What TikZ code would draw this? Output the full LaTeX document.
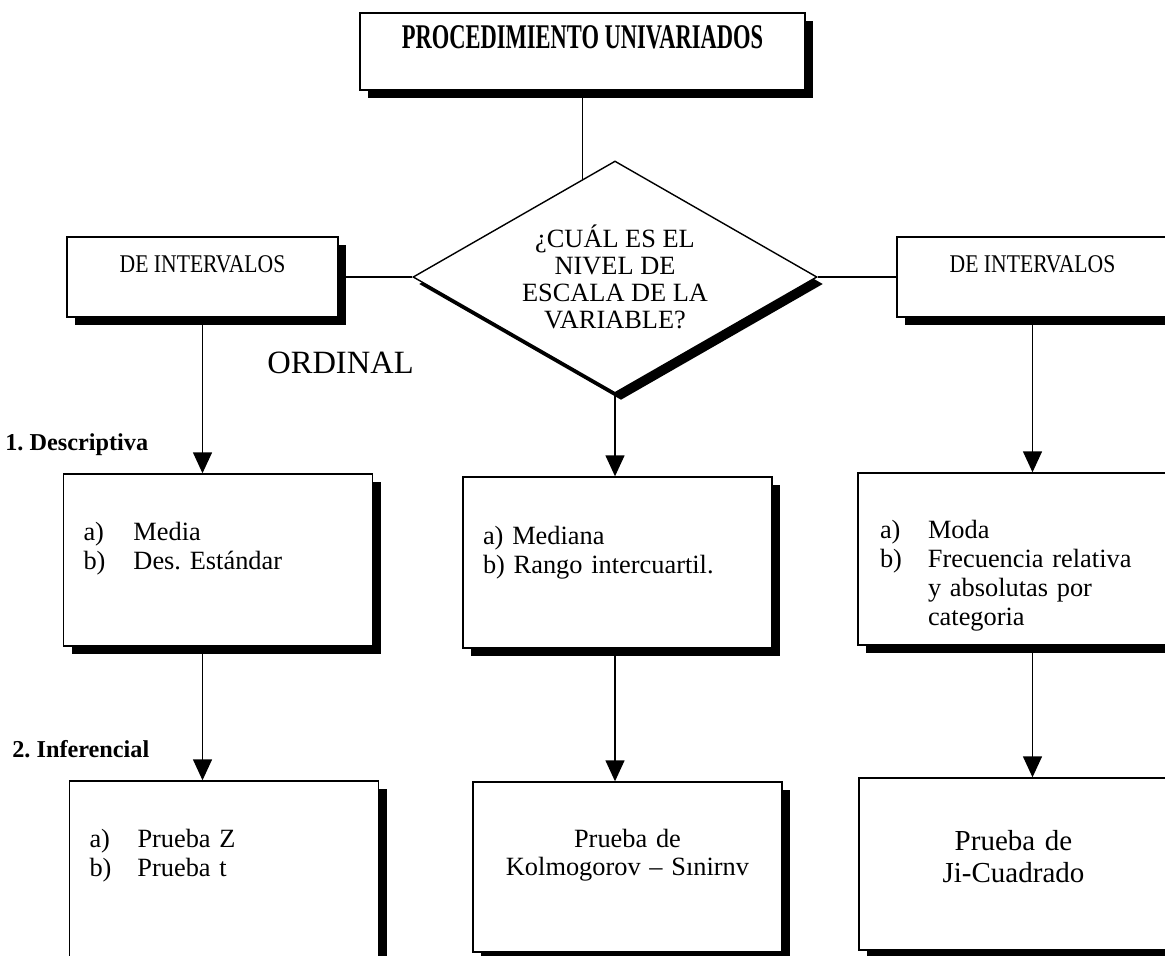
\documentclass[tikz,border=0pt]{standalone}
\usepackage{fontspec}
\setmainfont{Liberation Serif}
\usepackage{graphicx}
\usetikzlibrary{positioning}
\usetikzlibrary{shapes.geometric}
\usetikzlibrary{shadows}
\usetikzlibrary{arrows.meta}
\usetikzlibrary{backgrounds}
\frenchspacing
\tikzset{
	block/.style={draw, rectangle, thick, fill=white, inner sep=0pt, drop shadow={shadow xshift=0.16cm, shadow yshift=-0.16cm, fill=black, opacity=1}},
	heading/.style={block, minimum width=8.9cm, text height=0.70cm, text depth=0.84cm, font=\bfseries\fontsize{19.7}{20}\selectfont},
	level/.style={block, minimum width=5.42cm, text height=0.70cm, text depth=0.90cm, font=\fontsize{14.5}{15}\selectfont},
	listbox/.style={block, align=left, inner xsep=0.4cm, text width=5.38cm, font=\fontsize{15}{17}\selectfont},
	testbox/.style={block, align=center, text width=6.18cm, font=\fontsize{15}{16}\selectfont},
	question/.style={draw, diamond, thick, fill=white, inner sep=0pt, shape aspect=1.74, minimum width=8.08cm, minimum height=4.64cm, align=center, font=\fontsize{15}{15.3}\selectfont, drop shadow={shadow xshift=0.12cm, shadow yshift=-0.14cm, fill=black, opacity=1}},
	% bold side notes at the left margin
	tag/.style={anchor=base west, inner sep=0pt, font=\bfseries\fontsize{13.8}{14}\selectfont},
}

\begin{document}
\begin{tikzpicture}
	\useasboundingbox (0,0) rectangle (23.3,-19.1);
	
	\node (title) [heading] at (11.65,-1.03) {\scalebox{0.65}[1]{PROCEDIMIENTO UNIVARIADOS}};
	\node (q) [question, below of=title, xshift=0.65cm, yshift=-3.51cm] {¿CUÁL ES EL\\NIVEL DE\\ESCALA DE LA\\VARIABLE?};
	
	\node (dleft) [level, left of=q, xshift=-7.25cm] {\scalebox{0.85}[1]{DE INTERVALOS}};
	\node (dright) [level, right of=q, xshift=7.35cm] {\scalebox{0.85}[1]{DE INTERVALOS}};
	
	\node (media) [listbox, text height=1.32cm, text depth=2.12cm, below of=dleft, xshift=0.31cm, yshift=-4.66cm] {\makebox[1cm][l]{a)}Media\\\makebox[1cm][l]{b)}Des. Estándar};
	\node (mediana) [listbox, text height=1.34cm, text depth=2.08cm, below of=q, xshift=0.05cm, yshift=-4.71cm] {a) Mediana\\b) Rango intercuartil.};
	\node (moda) [listbox, inner xsep=0.44cm, text width=5.3cm, text height=1.30cm, text depth=2.14cm, font=\fontsize{15}{16.6}\selectfont, below of=dright, xshift=-0.4cm, yshift=-4.64cm] {\makebox[0.96cm][l]{a)}Moda\\\makebox[0.96cm][l]{b)}Frecuencia relativa\\\hspace*{0.96cm}y absolutas por\\\hspace*{0.96cm}categoria};
	
	\node (pz) [listbox, text height=1.32cm, text depth=2.2cm, below of=media, xshift=0.12cm, yshift=-5.18cm] {\makebox[0.96cm][l]{a)}Prueba Z\\\makebox[0.96cm][l]{b)}Prueba t};
	\node (ks) [testbox, text height=1.30cm, text depth=2.10cm, below of=mediana, xshift=0.2cm, yshift=-5.09cm] {Prueba de\\Kolmogorov – Sınirnv};
	\node (ji) [testbox, text height=1.44cm, text depth=2.0cm, font=\fontsize{16.5}{18.7}\selectfont, below of=moda, xshift=0.02cm, yshift=-5.1cm] {Prueba de\\Ji-Cuadrado};
	
	\node (ordinal) [anchor=base west, inner sep=0pt, font=\fontsize{18.5}{19}\selectfont] at (5.34,-7.46) {ORDINAL};
	\node (desc) [tag] at (0.10,-9.0) {1. Descriptiva};
	\node (inf) [tag] at (0.24,-15.14) {2. Inferencial};
	
	\begin{scope}[on background layer, thick, black]
		\draw (title.south) -- (title.south |- q.center);
	\end{scope}
	\begin{scope}[thick, black]
		\draw (dleft) -- (q);
		\draw (q) -- (dright);
	\end{scope}
	\begin{scope}[thick, black, ->, >={Triangle[width=0.38cm, length=0.42cm]}]
		\draw (dleft.south) -- (dleft.south |- media.north);
		\draw (q.south) -- (q.south |- mediana.north);
		\draw (dright.south) -- (dright.south |- moda.north);
		
		\draw (dleft.south |- media.south) -- (dleft.south |- pz.north);
		\draw (q.south |- mediana.south) -- (q.south |- ks.north);
		\draw (dright.south |- moda.south) -- (dright.south |- ji.north);
	\end{scope}
\end{tikzpicture}
\end{document}
